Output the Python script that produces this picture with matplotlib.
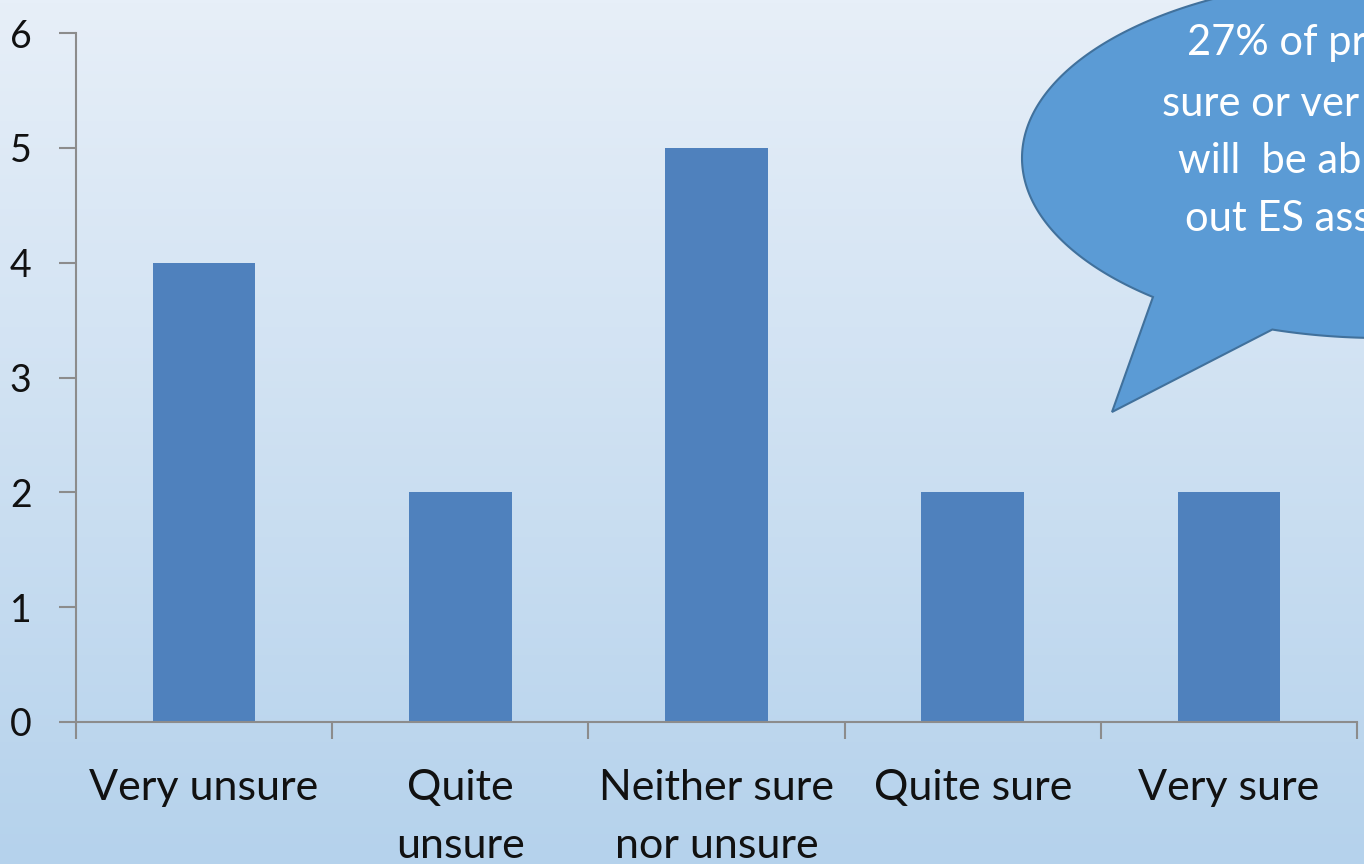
import numpy as np
import matplotlib
matplotlib.use("Agg")
import matplotlib.pyplot as plt
from matplotlib.patches import Polygon

categories = ["Very unsure", "Quite\nunsure", "Neither sure\nnor unsure", "Quite sure", "Very sure"]
counts = [4, 2, 5, 2, 2]
yticks = [0, 1, 2, 3, 4, 5, 6]
bubble_lines = ["27% of pr", "sure or ver", "will  be ab", "out ES ass"]

W, H = 1364, 864
fig = plt.figure(figsize=(W / 100, H / 100), dpi=100)
plt.rcParams['font.family'] = ['Lato', 'DejaVu Sans']

# background gradient
bg = fig.add_axes([0, 0, 1, 1], zorder=0)
grad = np.linspace(0, 1, 256)[:, None]
top = np.array([231, 239, 248]) / 255
bot = np.array([181, 210, 236]) / 255
img = top[None, None, :] * (1 - grad[:, :, None]) + bot[None, None, :] * grad[:, :, None]
bg.imshow(img, aspect='auto', extent=[0, 1, 0, 1])
bg.axis('off')

ax = fig.add_axes([76 / W, 1 - 722 / H, (1357 - 76) / W, (722 - 33) / H], zorder=1)
ax.patch.set_alpha(0)
x = np.arange(len(categories))
ax.bar(x, counts, width=0.4, color='#4f81bd', zorder=2)
ax.set_xlim(-0.5, len(categories) - 0.5)
ax.set_ylim(0, 6)
for s in ['top', 'right']:
    ax.spines[s].set_visible(False)
for s in ['left', 'bottom']:
    ax.spines[s].set_color('#8c8c8c')
    ax.spines[s].set_linewidth(1.5)
ax.set_yticks(yticks)
ax.set_yticklabels([str(v) for v in yticks], fontsize=27, color='#111111')
ax.tick_params(axis='y', length=12, width=1.5, color='#8c8c8c', pad=20)
ax.set_xticks(x)
ax.set_xticklabels(categories, fontsize=31, color='#111111', linespacing=1.65)
ax.tick_params(axis='x', which='major', length=0, pad=34)
ax.set_xticks(np.arange(-0.5, len(categories)), minor=True)
ax.tick_params(axis='x', which='minor', length=12, width=1.5, color='#8c8c8c')

# speech bubble overlay (pixel coords)
ov = fig.add_axes([0, 0, 1, 1], zorder=3)
ov.set_xlim(0, W)
ov.set_ylim(H, 0)
ov.axis('off')
cx, cy, a, b = 1381, 158, 359, 180
t1 = np.arctan2((297 - cy) / b, (1153 - cx) / a)
t2 = np.arctan2((330 - cy) / b, (1272 - cx) / a)
ts = np.linspace(t1, t2 + 2 * np.pi, 400)
pts = np.column_stack([cx + a * np.cos(ts), cy + b * np.sin(ts)])
pts = np.vstack([pts, [[1112, 412]]])
ov.add_patch(Polygon(pts, closed=True, facecolor='#5b9bd5', edgecolor='#41719c', linewidth=1.5))
line_y = [43, 104, 161, 219]
line_x = [1187, 1162, 1178, 1185]
for lx, ly, s in zip(line_x, line_y, bubble_lines):
    ov.text(lx, ly, s, color='white', fontsize=30, ha='left', va='center')

fig.savefig('out.png', dpi=100)
